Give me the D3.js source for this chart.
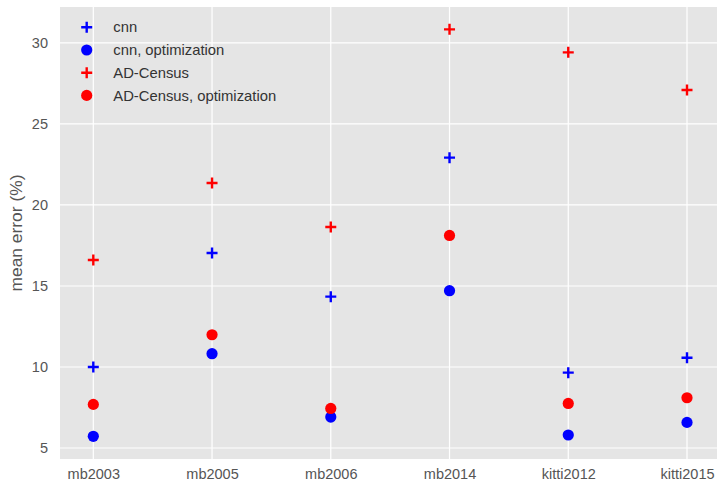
<html>
<script src="https://d3js.org/d3.v7.min.js"></script>
<style>
body { margin: 0; background: #fff; }
text { font-family: "Liberation Sans", Arial, sans-serif; }
</style>
<body>
<svg width="717" height="483"></svg>
<script>
var categories = ["mb2003", "mb2005", "mb2006", "mb2014", "kitti2012", "kitti2015"];
var cnn = [10.0, 17.04, 14.34, 22.92, 9.65, 10.57];
var cnnOpt = [5.72, 10.82, 6.91, 14.71, 5.8, 6.58];
var census = [16.6, 21.36, 18.64, 30.84, 29.42, 27.1];
var censusOpt = [7.69, 11.99, 7.44, 18.12, 7.75, 8.1];
var yTicks = [5, 10, 15, 20, 25, 30];

var series = [
  {name: "cnn", values: cnn, color: "#0000ff", shape: "plus"},
  {name: "cnn, optimization", values: cnnOpt, color: "#0000ff", shape: "circle"},
  {name: "AD-Census", values: census, color: "#ff0000", shape: "plus"},
  {name: "AD-Census, optimization", values: censusOpt, color: "#ff0000", shape: "circle"}
];

var plotLeft = 60, plotRight = 720, plotTop = 7, plotBottom = 459;
var svg = d3.select("svg");

var x = d3.scalePoint().domain(categories).range([93.3, 687]);
var y = d3.scaleLinear().domain([4.32, 32.22]).range([plotBottom, plotTop]);

svg.append("rect")
  .attr("x", plotLeft).attr("y", plotTop)
  .attr("width", plotRight - plotLeft).attr("height", plotBottom - plotTop)
  .attr("fill", "#e5e5e5");

// grid
svg.append("g").selectAll("line").data(yTicks).enter().append("line")
  .attr("x1", plotLeft).attr("x2", plotRight)
  .attr("y1", function(d) { return y(d); }).attr("y2", function(d) { return y(d); })
  .attr("stroke", "#fff").attr("stroke-width", 1.2);
svg.append("g").selectAll("line").data(categories).enter().append("line")
  .attr("x1", function(d) { return x(d); }).attr("x2", function(d) { return x(d); })
  .attr("y1", plotTop).attr("y2", plotBottom)
  .attr("stroke", "#fff").attr("stroke-width", 1.2);

// axes
var yAxis = svg.append("g")
  .attr("transform", "translate(" + plotLeft + ",0)")
  .call(d3.axisLeft(y).tickValues(yTicks).tickSize(0).tickPadding(12));
var xAxis = svg.append("g")
  .attr("transform", "translate(0," + plotBottom + ")")
  .call(d3.axisBottom(x).tickSize(0).tickPadding(10));
[xAxis, yAxis].forEach(function(g) {
  g.select(".domain").remove();
  g.selectAll("text").attr("fill", "#555").style("font-size", "14.5px")
    .style("font-family", "'Liberation Sans', Arial, sans-serif");
});

svg.append("text")
  .attr("transform", "translate(22," + ((plotTop + plotBottom) / 2) + ") rotate(-90)")
  .attr("text-anchor", "middle")
  .attr("fill", "#555").style("font-size", "17.4px")
  .text("mean error (%)");

function drawMarker(g, shape, color) {
  if (shape === "plus") {
    g.append("path").attr("d", "M-5.5,0H5.5M0,-5.5V5.5")
      .attr("stroke", color).attr("stroke-width", 2.4).attr("fill", "none");
  } else {
    g.append("circle").attr("r", 5.6).attr("fill", color);
  }
}

// points
series.forEach(function(s) {
  var g = svg.append("g");
  g.selectAll("g").data(s.values).enter().append("g")
    .attr("transform", function(d, i) {
      return "translate(" + x(categories[i]) + "," + y(d) + ")";
    })
    .each(function() { drawMarker(d3.select(this), s.shape, s.color); });
});

// legend
var legend = svg.append("g");
series.forEach(function(s, i) {
  var row = legend.append("g").attr("transform", "translate(86.7," + (27.3 + i * 22.7) + ")");
  drawMarker(row, s.shape, s.color);
  row.append("text").attr("x", 26.6).attr("dy", "0.35em")
    .attr("fill", "#333").style("font-size", "14.8px")
    .text(s.name);
});
</script>
</body>
</html>
